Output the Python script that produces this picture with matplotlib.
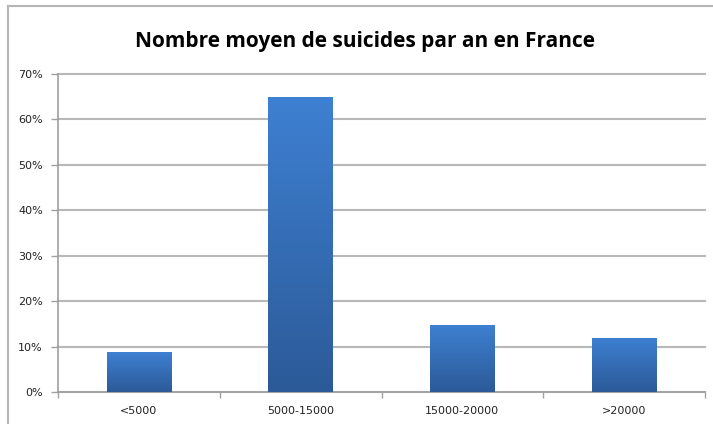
import numpy as np
import matplotlib.pyplot as plt
from matplotlib.lines import Line2D
from matplotlib.ticker import PercentFormatter
from matplotlib.colors import LinearSegmentedColormap

categories = ["<5000", "5000-15000", "15000-20000", ">20000"]
values = [0.088, 0.65, 0.148, 0.119]
yticks = [0, 0.1, 0.2, 0.3, 0.4, 0.5, 0.6, 0.7]

fig = plt.figure(figsize=(7.13, 4.24), dpi=100)
ax = fig.add_axes([58/713, 32/424, 647/713, 318/424])

# outer chart frame (left and top only visible)
fig.add_artist(Line2D([8/713, 8/713], [0, 1 - 6/424], transform=fig.transFigure, color="#b5b5b5", lw=1.5))
fig.add_artist(Line2D([8/713, 1], [1 - 6/424, 1 - 6/424], transform=fig.transFigure, color="#b5b5b5", lw=1.5))

x = np.arange(len(categories))
bars = ax.bar(x, values, width=0.4, color="#3673c0", zorder=3)

# vertical gradient on each bar
grad = np.linspace(0, 1, 256).reshape(-1, 1)
cmap = LinearSegmentedColormap.from_list("g", ["#2c5a98", "#3e80d2"])
for b in bars:
    x0, y0 = b.get_x(), b.get_y()
    im = ax.imshow(grad, extent=[x0, x0 + b.get_width(), y0, y0 + b.get_height()],
                   origin="lower", aspect="auto", cmap=cmap, zorder=4)
    im.set_clip_path(b)

ax.set_xlim(-0.5, len(categories) - 0.5)
ax.set_ylim(0, 0.7)
ax.set_yticks(yticks)
ax.yaxis.set_major_formatter(PercentFormatter(1.0, decimals=0))
ax.set_xticks(x)
ax.set_xticklabels(categories)
ax.set_xticks(np.arange(len(categories) + 1) - 0.5, minor=True)
ax.tick_params(axis="x", which="major", length=0, pad=10, labelsize=8, labelcolor="#222222")
ax.tick_params(axis="x", which="minor", length=4, color="#a0a0a0", width=1)
ax.tick_params(axis="y", length=5, color="#a0a0a0", width=1, labelsize=8, labelcolor="#222222", pad=6)

ax.grid(axis="y", color="#b8b8b8", lw=1.5, zorder=0)
for gl in ax.get_ygridlines():
    gl.set_clip_on(False)
for s in ["top", "right"]:
    ax.spines[s].set_visible(False)
for s in ["left", "bottom"]:
    ax.spines[s].set_color("#a0a0a0")
    ax.spines[s].set_linewidth(1.2)

fig.text(365/713, 1 - 42/424, "Nombre moyen de suicides par an en France",
         ha="center", va="center", fontsize=15, fontweight="bold", family="Open Sans")

plt.savefig("out.png", dpi=100)
